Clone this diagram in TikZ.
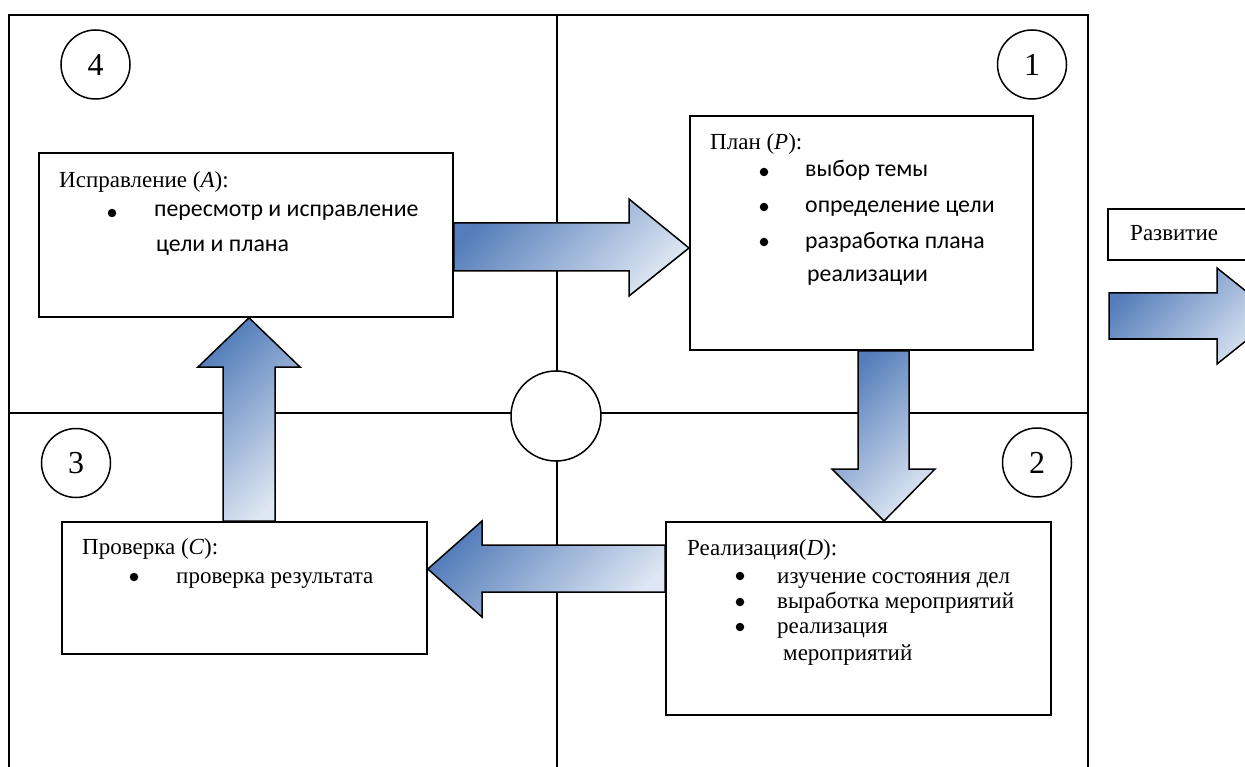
\documentclass[tikz,border=0pt]{standalone}
\usepackage{fontspec}
\setmainfont{Liberation Serif}
\newfontfamily\calib{Carlito}
\usetikzlibrary{calc}

\definecolor{arrdark}{RGB}{84,125,186}
\definecolor{arrlight}{RGB}{222,231,243}

\begin{document}
\begin{tikzpicture}[x=1pt,y=-1pt,
  frame/.style={line width=1.8pt},
  box/.style={draw, line width=1.8pt, fill=white, inner sep=0pt, anchor=north west},
  num/.style={draw, circle, line width=1.5pt, fill=white, minimum size=69pt, inner sep=0pt,
              font=\fontsize{32}{32}\selectfont},
  lbl/.style={anchor=base west, inner sep=0pt, font=\fontsize{23}{23}\selectfont},
  sans/.style={anchor=base west, inner sep=0pt, font=\calib\fontsize{23.8}{23.8}\selectfont},
  bul/.style={circle, fill=black, minimum size=8.5pt, inner sep=0pt},
  blockarrow/.style={draw, line width=1.5pt, line join=miter, shading=axis,
                     top color=arrdark, bottom color=arrlight, shading angle=45},
]
\useasboundingbox (0,0) rectangle (1245,767);
\clip (0,0) rectangle (1245,767);

% quadrant frame
\draw[frame] (9,767) -- (9,15) -- (1088,15) -- (1088,767);
\draw[frame] (557,15) -- (557,767);
\draw[frame] (9,413) -- (1088,413);
\node[draw, circle, line width=1.5pt, fill=white, minimum size=90pt, inner sep=0pt] (hub) at (556,416) {};

% step numbers
\node[num] (n4) at (95.5,64.5) {4};
\node[num] (n1) at (1032,64.5) {1};
\node[num] (n3) at (76,463) {3};
\node[num] (n2) at (1037,462.5) {2};

% boxes
\node[box, minimum width=414pt, minimum height=164pt] (A) at (38,152) {};
\node[box, minimum width=343pt, minimum height=234pt] (P) at (689,115) {};
\node[box, minimum width=365pt, minimum height=132pt] (C) at (61,521) {};
\node[box, minimum width=385pt, minimum height=193pt] (D) at (665,521) {};
\node[box, minimum width=170pt, minimum height=51pt] (dev) at (1107,208) {};

% block arrows between the stages
\path[blockarrow] (A.east |- 0,223) -- (629,223) -- (629,199) -- (P.west |- 0,248)
  -- (629,296) -- (629,271) -- (A.east |- 0,271) -- cycle;
\path[blockarrow] (P.south -| 858,0) -- (858,469) -- (832,469) -- (D.north -| 884,0)
  -- (935,469) -- (909,469) -- (P.south -| 909,0) -- cycle;
\path[blockarrow] (D.west |- 0,545) -- (482,545) -- (482,521) -- (C.east |- 0,569)
  -- (482,617) -- (482,592) -- (D.west |- 0,592) -- cycle;
\path[blockarrow] (C.north -| 223,0) -- (223,367) -- (198,367) -- (A.south -| 249,0)
  -- (300,367) -- (275,367) -- (C.north -| 275,0) -- cycle;
\coordinate (devtail) at ($(dev.south west |- 0,293)+(2,0)$);
\path[blockarrow] (devtail) -- (1217,293) -- (1217,268)
  -- (1277,316) -- (1217,364) -- (1217,339) -- (devtail |- 0,339) -- cycle;

% Act
\node[lbl] (At) at (59,188) {Исправление (\textit{A}):};
\node[bul] (Ab1) at (112,213) {};
\node[sans] (A1) at (154,217) {пересмотр и исправление};
\node[sans] (A1b) at (156,252) {цели и плана};

% Plan
\node[lbl] (Pt) at (710,150) {План (\textit{P}):};
\node[bul] (Pb1) at (764,172) {};
\node[bul] (Pb2) at (764,207) {};
\node[bul] (Pb3) at (764,242) {};
\node[sans] (P1) at (805,177) {выбор темы};
\node[sans] (P2) at (805,213) {определение цели};
\node[sans] (P3) at (805,249) {разработка плана};
\node[sans] (P3b) at (807,282) {реализации};

% Check
\node[lbl] (Ct) at (82,554) {Проверка (\textit{C}):};
\node[bul] (Cb1) at (134,577) {};
\node[lbl] (C1) at (176,583) {проверка результата};

% Do
\node[lbl] (Dt) at (687,555) {Реализация(\textit{D}):};
\node[bul] (Db1) at (740,576) {};
\node[bul] (Db2) at (740,602) {};
\node[bul] (Db3) at (740,627) {};
\node[lbl] (D1) at (777,583) {изучение состояния дел};
\node[lbl] (D2) at (777,608) {выработка мероприятий};
\node[lbl] (D3) at (777,633) {реализация};
\node[lbl] (D3b) at (783,660) {мероприятий};

% development
\node[lbl] (devt) at (1130,241) {Развитие};
\end{tikzpicture}
\end{document}
